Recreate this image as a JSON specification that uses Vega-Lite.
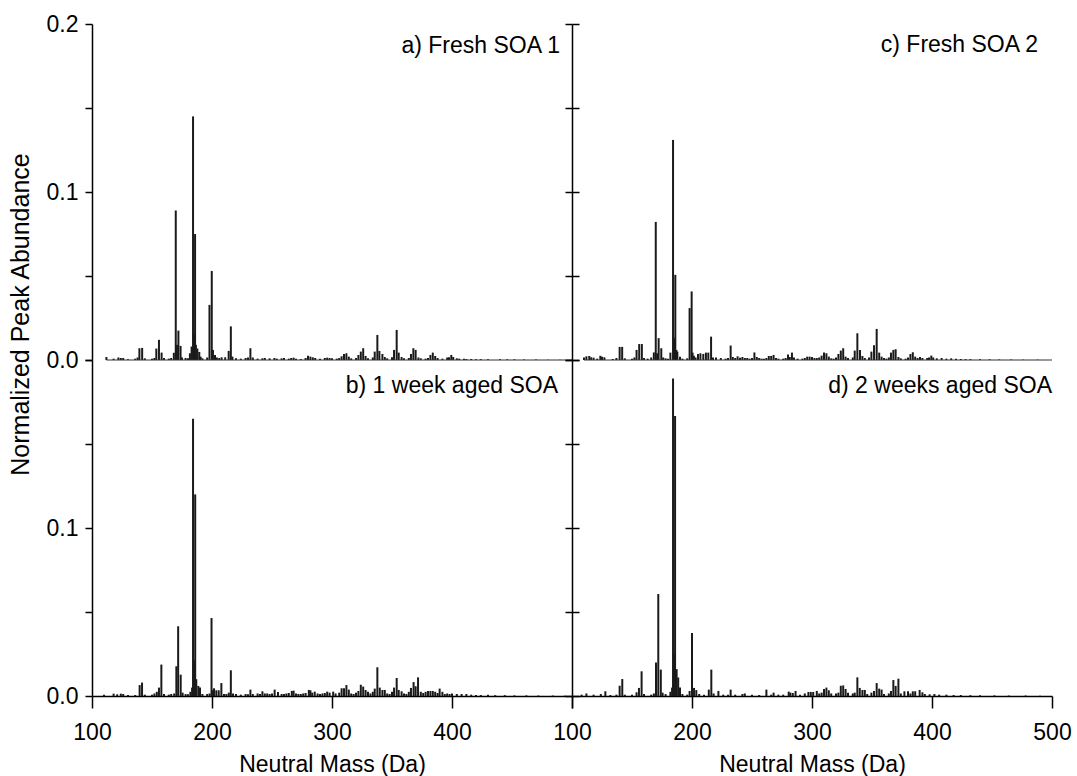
{
  "$schema": "https://vega.github.io/schema/vega-lite/v6.json",
  "padding": {"left": 8, "top": 13, "right": 0, "bottom": 0},
  "background": "white",
  "config": {
    "view": {"stroke": null},
    "font": "Liberation Sans",
    "axis": {"grid": false, "domainColor": "#000", "tickColor": "#000", "labelColor": "#000", "titleColor": "#000", "domainWidth": 1.5, "tickWidth": 1.5, "labelFontSize": 23, "titleFontSize": 23, "titleFontWeight": "normal", "labelFont": "Liberation Sans", "titleFont": "Liberation Sans", "labelFlush": false},
    "title": {"font": "Liberation Sans", "fontSize": 23, "fontWeight": "normal", "color": "#000"}
  },
  "datasets": {
    "spec": [
      {"p":"a","m":112,"v":0.0018},{"p":"a","m":118,"v":0.0008},{"p":"a","m":122,"v":0.0015},{"p":"a","m":124,"v":0.0012},{"p":"a","m":126,"v":0.0012},{"p":"a","m":130,"v":0.0005},{"p":"a","m":136,"v":0.0008},{"p":"a","m":138,"v":0.0015},{"p":"a","m":139.5,"v":0.007},{"p":"a","m":141.8,"v":0.0072},{"p":"a","m":144,"v":0.001},{"p":"a","m":150,"v":0.0008},{"p":"a","m":152,"v":0.0012},{"p":"a","m":153.6,"v":0.0068},{"p":"a","m":155.8,"v":0.012},{"p":"a","m":158,"v":0.0044},{"p":"a","m":160,"v":0.0012},{"p":"a","m":164,"v":0.0008},{"p":"a","m":166,"v":0.0012},{"p":"a","m":168.2,"v":0.0043},{"p":"a","m":169.8,"v":0.089},{"p":"a","m":170.8,"v":0.009},{"p":"a","m":172,"v":0.0175},{"p":"a","m":173.8,"v":0.0084},{"p":"a","m":175,"v":0.0015},{"p":"a","m":178,"v":0.0012},{"p":"a","m":180,"v":0.001},{"p":"a","m":181.6,"v":0.004},{"p":"a","m":183,"v":0.008},{"p":"a","m":184.2,"v":0.145},{"p":"a","m":184.8,"v":0.016},{"p":"a","m":185.3,"v":0.014},{"p":"a","m":185.9,"v":0.075},{"p":"a","m":186.6,"v":0.009},{"p":"a","m":187.8,"v":0.0068},{"p":"a","m":189.4,"v":0.0048},{"p":"a","m":190.5,"v":0.002},{"p":"a","m":192,"v":0.001},{"p":"a","m":196,"v":0.0015},{"p":"a","m":197.9,"v":0.0328},{"p":"a","m":199.8,"v":0.053},{"p":"a","m":200.8,"v":0.006},{"p":"a","m":202.5,"v":0.003},{"p":"a","m":204,"v":0.0015},{"p":"a","m":206,"v":0.0012},{"p":"a","m":208,"v":0.0016},{"p":"a","m":211,"v":0.0016},{"p":"a","m":213.9,"v":0.0054},{"p":"a","m":215.7,"v":0.02},{"p":"a","m":217,"v":0.002},{"p":"a","m":220,"v":0.001},{"p":"a","m":224,"v":0.0008},{"p":"a","m":228,"v":0.0012},{"p":"a","m":230,"v":0.0015},{"p":"a","m":232,"v":0.007},{"p":"a","m":234,"v":0.0015},{"p":"a","m":238,"v":0.0008},{"p":"a","m":242,"v":0.001},{"p":"a","m":244,"v":0.0012},{"p":"a","m":248,"v":0.001},{"p":"a","m":252,"v":0.0012},{"p":"a","m":254,"v":0.0008},{"p":"a","m":258,"v":0.001},{"p":"a","m":260,"v":0.0012},{"p":"a","m":264,"v":0.0008},{"p":"a","m":266,"v":0.0012},{"p":"a","m":268,"v":0.0014},{"p":"a","m":270,"v":0.0008},{"p":"a","m":274,"v":0.0006},{"p":"a","m":278,"v":0.0012},{"p":"a","m":280,"v":0.0026},{"p":"a","m":282,"v":0.002},{"p":"a","m":284,"v":0.0016},{"p":"a","m":286,"v":0.0012},{"p":"a","m":290,"v":0.0008},{"p":"a","m":294,"v":0.0012},{"p":"a","m":296,"v":0.0014},{"p":"a","m":298,"v":0.0012},{"p":"a","m":300,"v":0.001},{"p":"a","m":304,"v":0.0008},{"p":"a","m":306,"v":0.0012},{"p":"a","m":308,"v":0.0022},{"p":"a","m":310,"v":0.0036},{"p":"a","m":312,"v":0.004},{"p":"a","m":314,"v":0.002},{"p":"a","m":316,"v":0.001},{"p":"a","m":320,"v":0.0012},{"p":"a","m":322,"v":0.003},{"p":"a","m":324,"v":0.005},{"p":"a","m":326,"v":0.007},{"p":"a","m":328,"v":0.0024},{"p":"a","m":330,"v":0.001},{"p":"a","m":334,"v":0.0015},{"p":"a","m":335.6,"v":0.005},{"p":"a","m":337.8,"v":0.0149},{"p":"a","m":339.5,"v":0.0054},{"p":"a","m":342,"v":0.0036},{"p":"a","m":344,"v":0.0018},{"p":"a","m":346,"v":0.001},{"p":"a","m":350,"v":0.0016},{"p":"a","m":351.7,"v":0.006},{"p":"a","m":353.9,"v":0.0179},{"p":"a","m":355.6,"v":0.0044},{"p":"a","m":358,"v":0.0018},{"p":"a","m":360,"v":0.001},{"p":"a","m":364,"v":0.0012},{"p":"a","m":365.8,"v":0.0036},{"p":"a","m":367.8,"v":0.007},{"p":"a","m":369.7,"v":0.006},{"p":"a","m":372,"v":0.0015},{"p":"a","m":374,"v":0.001},{"p":"a","m":378,"v":0.0008},{"p":"a","m":380,"v":0.0012},{"p":"a","m":382,"v":0.003},{"p":"a","m":384,"v":0.0044},{"p":"a","m":386,"v":0.0024},{"p":"a","m":388,"v":0.0012},{"p":"a","m":392,"v":0.0008},{"p":"a","m":396,"v":0.0015},{"p":"a","m":397.5,"v":0.0016},{"p":"a","m":399.4,"v":0.003},{"p":"a","m":401,"v":0.0018},{"p":"a","m":404,"v":0.001},{"p":"a","m":406,"v":0.0008},{"p":"a","m":410,"v":0.0008},{"p":"a","m":412,"v":0.0006},{"p":"a","m":416,"v":0.0006},{"p":"a","m":420,"v":0.0005},{"p":"a","m":424,"v":0.0005},{"p":"a","m":430,"v":0.0004},{"p":"a","m":440,"v":0.0005},{"p":"a","m":446,"v":0.0004},{"p":"a","m":452,"v":0.0004},{"p":"a","m":460,"v":0.0003},{"p":"a","m":470,"v":0.0003},{"p":"a","m":480,"v":0.0002},{"p":"a","m":490,"v":0.0002},
      {"p":"c","m":110,"v":0.0015},{"p":"c","m":112,"v":0.0022},{"p":"c","m":114.4,"v":0.0024},{"p":"c","m":116,"v":0.0016},{"p":"c","m":118,"v":0.0014},{"p":"c","m":121,"v":0.0008},{"p":"c","m":123.6,"v":0.0025},{"p":"c","m":125,"v":0.002},{"p":"c","m":127,"v":0.0016},{"p":"c","m":134,"v":0.0006},{"p":"c","m":137,"v":0.0012},{"p":"c","m":139.7,"v":0.0078},{"p":"c","m":141.8,"v":0.0078},{"p":"c","m":144,"v":0.001},{"p":"c","m":150,"v":0.0008},{"p":"c","m":152,"v":0.0015},{"p":"c","m":153.8,"v":0.006},{"p":"c","m":156,"v":0.0095},{"p":"c","m":158.2,"v":0.0095},{"p":"c","m":160,"v":0.0012},{"p":"c","m":163,"v":0.0008},{"p":"c","m":166,"v":0.0015},{"p":"c","m":168.2,"v":0.0045},{"p":"c","m":169.8,"v":0.0822},{"p":"c","m":171,"v":0.004},{"p":"c","m":172.2,"v":0.013},{"p":"c","m":174.4,"v":0.007},{"p":"c","m":176,"v":0.0015},{"p":"c","m":178,"v":0.001},{"p":"c","m":180,"v":0.0008},{"p":"c","m":182,"v":0.0044},{"p":"c","m":184.2,"v":0.131},{"p":"c","m":184.8,"v":0.0134},{"p":"c","m":185.3,"v":0.012},{"p":"c","m":186.1,"v":0.0507},{"p":"c","m":187,"v":0.006},{"p":"c","m":187.8,"v":0.005},{"p":"c","m":190,"v":0.002},{"p":"c","m":192,"v":0.0008},{"p":"c","m":196,"v":0.001},{"p":"c","m":198,"v":0.0309},{"p":"c","m":199.7,"v":0.0408},{"p":"c","m":200.5,"v":0.0044},{"p":"c","m":201.6,"v":0.0025},{"p":"c","m":203,"v":0.0015},{"p":"c","m":205,"v":0.0035},{"p":"c","m":207,"v":0.004},{"p":"c","m":209.4,"v":0.0036},{"p":"c","m":211.6,"v":0.0044},{"p":"c","m":213.6,"v":0.0044},{"p":"c","m":215.9,"v":0.0139},{"p":"c","m":217.5,"v":0.0015},{"p":"c","m":220,"v":0.0015},{"p":"c","m":224,"v":0.0012},{"p":"c","m":228,"v":0.0008},{"p":"c","m":230,"v":0.0012},{"p":"c","m":232.2,"v":0.0086},{"p":"c","m":234,"v":0.0018},{"p":"c","m":236,"v":0.0012},{"p":"c","m":238,"v":0.0022},{"p":"c","m":240,"v":0.0014},{"p":"c","m":242,"v":0.0018},{"p":"c","m":244,"v":0.0012},{"p":"c","m":246,"v":0.0012},{"p":"c","m":248,"v":0.0008},{"p":"c","m":250,"v":0.0012},{"p":"c","m":252,"v":0.0045},{"p":"c","m":254,"v":0.0018},{"p":"c","m":256,"v":0.0012},{"p":"c","m":258,"v":0.0008},{"p":"c","m":260,"v":0.0008},{"p":"c","m":262,"v":0.0012},{"p":"c","m":264,"v":0.0024},{"p":"c","m":266,"v":0.0024},{"p":"c","m":268,"v":0.003},{"p":"c","m":270,"v":0.0012},{"p":"c","m":272,"v":0.0008},{"p":"c","m":276,"v":0.0008},{"p":"c","m":278,"v":0.0012},{"p":"c","m":280,"v":0.0032},{"p":"c","m":281.5,"v":0.0018},{"p":"c","m":283.3,"v":0.0044},{"p":"c","m":285,"v":0.0015},{"p":"c","m":288,"v":0.0008},{"p":"c","m":292,"v":0.0008},{"p":"c","m":294,"v":0.0012},{"p":"c","m":296,"v":0.002},{"p":"c","m":298,"v":0.002},{"p":"c","m":300,"v":0.0018},{"p":"c","m":302,"v":0.0012},{"p":"c","m":304,"v":0.0012},{"p":"c","m":306,"v":0.0015},{"p":"c","m":308,"v":0.0026},{"p":"c","m":310,"v":0.0044},{"p":"c","m":312,"v":0.004},{"p":"c","m":314,"v":0.002},{"p":"c","m":316,"v":0.001},{"p":"c","m":318,"v":0.0008},{"p":"c","m":320,"v":0.0015},{"p":"c","m":322,"v":0.0036},{"p":"c","m":324,"v":0.0056},{"p":"c","m":326,"v":0.007},{"p":"c","m":328,"v":0.002},{"p":"c","m":330,"v":0.0012},{"p":"c","m":334,"v":0.0015},{"p":"c","m":335.6,"v":0.0056},{"p":"c","m":337.8,"v":0.0159},{"p":"c","m":340,"v":0.006},{"p":"c","m":342,"v":0.0024},{"p":"c","m":344,"v":0.0012},{"p":"c","m":347.5,"v":0.0015},{"p":"c","m":349.5,"v":0.005},{"p":"c","m":351.7,"v":0.0088},{"p":"c","m":353.9,"v":0.0185},{"p":"c","m":356,"v":0.0044},{"p":"c","m":358,"v":0.002},{"p":"c","m":360,"v":0.0012},{"p":"c","m":362,"v":0.0008},{"p":"c","m":364,"v":0.0015},{"p":"c","m":365.8,"v":0.0044},{"p":"c","m":367.8,"v":0.006},{"p":"c","m":369.7,"v":0.0064},{"p":"c","m":372,"v":0.0018},{"p":"c","m":374,"v":0.001},{"p":"c","m":378,"v":0.0008},{"p":"c","m":380,"v":0.0015},{"p":"c","m":382,"v":0.0036},{"p":"c","m":384,"v":0.0046},{"p":"c","m":386,"v":0.002},{"p":"c","m":388,"v":0.0012},{"p":"c","m":390,"v":0.0018},{"p":"c","m":392,"v":0.0012},{"p":"c","m":396,"v":0.0012},{"p":"c","m":397.5,"v":0.0015},{"p":"c","m":399.4,"v":0.0026},{"p":"c","m":401,"v":0.0015},{"p":"c","m":404,"v":0.001},{"p":"c","m":408,"v":0.0012},{"p":"c","m":412,"v":0.0008},{"p":"c","m":416,"v":0.001},{"p":"c","m":420,"v":0.0008},{"p":"c","m":424,"v":0.0006},{"p":"c","m":428,"v":0.0005},{"p":"c","m":432,"v":0.0005},{"p":"c","m":440,"v":0.0004},{"p":"c","m":448,"v":0.0004},{"p":"c","m":456,"v":0.0003},{"p":"c","m":466,"v":0.0003},{"p":"c","m":476,"v":0.0002},{"p":"c","m":488,"v":0.0002},
      {"p":"b","m":110,"v":0.0008},{"p":"b","m":118,"v":0.0014},{"p":"b","m":121,"v":0.001},{"p":"b","m":124,"v":0.0014},{"p":"b","m":126,"v":0.0012},{"p":"b","m":130,"v":0.0006},{"p":"b","m":136,"v":0.0006},{"p":"b","m":139.7,"v":0.0065},{"p":"b","m":141.7,"v":0.008},{"p":"b","m":144,"v":0.0008},{"p":"b","m":150,"v":0.0008},{"p":"b","m":152,"v":0.0015},{"p":"b","m":154,"v":0.0025},{"p":"b","m":155.8,"v":0.005},{"p":"b","m":157.8,"v":0.0187},{"p":"b","m":160,"v":0.0012},{"p":"b","m":164,"v":0.0008},{"p":"b","m":166,"v":0.0012},{"p":"b","m":168.5,"v":0.0015},{"p":"b","m":170.3,"v":0.0177},{"p":"b","m":171.8,"v":0.0415},{"p":"b","m":173.9,"v":0.0127},{"p":"b","m":175.5,"v":0.002},{"p":"b","m":178,"v":0.0012},{"p":"b","m":180,"v":0.001},{"p":"b","m":182,"v":0.0025},{"p":"b","m":183.4,"v":0.005},{"p":"b","m":184.2,"v":0.165},{"p":"b","m":184.8,"v":0.0214},{"p":"b","m":185.4,"v":0.02},{"p":"b","m":186,"v":0.12},{"p":"b","m":186.9,"v":0.01},{"p":"b","m":188.6,"v":0.006},{"p":"b","m":190,"v":0.005},{"p":"b","m":192,"v":0.0012},{"p":"b","m":196,"v":0.0012},{"p":"b","m":198,"v":0.0015},{"p":"b","m":199.6,"v":0.0464},{"p":"b","m":200.8,"v":0.0035},{"p":"b","m":201.7,"v":0.0046},{"p":"b","m":203.6,"v":0.0034},{"p":"b","m":205.6,"v":0.0034},{"p":"b","m":207.8,"v":0.0077},{"p":"b","m":210,"v":0.0012},{"p":"b","m":212,"v":0.0012},{"p":"b","m":214,"v":0.002},{"p":"b","m":215.7,"v":0.0153},{"p":"b","m":217.5,"v":0.0015},{"p":"b","m":220,"v":0.0012},{"p":"b","m":224,"v":0.0008},{"p":"b","m":228,"v":0.0012},{"p":"b","m":230,"v":0.001},{"p":"b","m":232,"v":0.0038},{"p":"b","m":234,"v":0.0012},{"p":"b","m":238,"v":0.0015},{"p":"b","m":240,"v":0.0012},{"p":"b","m":242,"v":0.0028},{"p":"b","m":244,"v":0.0015},{"p":"b","m":246,"v":0.0015},{"p":"b","m":248,"v":0.0012},{"p":"b","m":250,"v":0.0015},{"p":"b","m":252.2,"v":0.0038},{"p":"b","m":255,"v":0.0024},{"p":"b","m":258,"v":0.0012},{"p":"b","m":260,"v":0.0012},{"p":"b","m":262,"v":0.0015},{"p":"b","m":264,"v":0.0018},{"p":"b","m":266.5,"v":0.003},{"p":"b","m":268,"v":0.0032},{"p":"b","m":270,"v":0.0015},{"p":"b","m":272,"v":0.0012},{"p":"b","m":274,"v":0.0012},{"p":"b","m":276,"v":0.0015},{"p":"b","m":278,"v":0.0018},{"p":"b","m":280.7,"v":0.0036},{"p":"b","m":282,"v":0.0034},{"p":"b","m":283.5,"v":0.002},{"p":"b","m":285.6,"v":0.0026},{"p":"b","m":288,"v":0.0015},{"p":"b","m":290,"v":0.0012},{"p":"b","m":292,"v":0.0015},{"p":"b","m":294,"v":0.0018},{"p":"b","m":296,"v":0.0026},{"p":"b","m":298,"v":0.002},{"p":"b","m":301,"v":0.0026},{"p":"b","m":303,"v":0.0015},{"p":"b","m":306,"v":0.002},{"p":"b","m":308,"v":0.0046},{"p":"b","m":310,"v":0.0046},{"p":"b","m":312,"v":0.0065},{"p":"b","m":314,"v":0.0038},{"p":"b","m":316,"v":0.0015},{"p":"b","m":318,"v":0.0012},{"p":"b","m":320,"v":0.002},{"p":"b","m":322,"v":0.003},{"p":"b","m":324,"v":0.0067},{"p":"b","m":326,"v":0.0056},{"p":"b","m":328,"v":0.0036},{"p":"b","m":330,"v":0.0026},{"p":"b","m":332,"v":0.0015},{"p":"b","m":334,"v":0.0025},{"p":"b","m":335.6,"v":0.0044},{"p":"b","m":337.8,"v":0.0171},{"p":"b","m":339.8,"v":0.005},{"p":"b","m":342,"v":0.0036},{"p":"b","m":344,"v":0.0036},{"p":"b","m":346,"v":0.0015},{"p":"b","m":348,"v":0.0012},{"p":"b","m":350,"v":0.0025},{"p":"b","m":351.7,"v":0.005},{"p":"b","m":353.9,"v":0.0107},{"p":"b","m":355.6,"v":0.0036},{"p":"b","m":358,"v":0.0028},{"p":"b","m":360,"v":0.0015},{"p":"b","m":362,"v":0.0012},{"p":"b","m":364,"v":0.0025},{"p":"b","m":365.8,"v":0.0048},{"p":"b","m":368,"v":0.0083},{"p":"b","m":369.7,"v":0.0058},{"p":"b","m":371.7,"v":0.0111},{"p":"b","m":374,"v":0.0025},{"p":"b","m":376,"v":0.0018},{"p":"b","m":378,"v":0.0025},{"p":"b","m":380,"v":0.003},{"p":"b","m":382,"v":0.003},{"p":"b","m":384,"v":0.003},{"p":"b","m":386,"v":0.0025},{"p":"b","m":388,"v":0.0018},{"p":"b","m":389.7,"v":0.0044},{"p":"b","m":392,"v":0.0025},{"p":"b","m":394,"v":0.0012},{"p":"b","m":396,"v":0.0015},{"p":"b","m":398,"v":0.0012},{"p":"b","m":400,"v":0.0015},{"p":"b","m":404,"v":0.0012},{"p":"b","m":408,"v":0.0012},{"p":"b","m":412,"v":0.0012},{"p":"b","m":416,"v":0.0008},{"p":"b","m":420,"v":0.0006},{"p":"b","m":424,"v":0.0006},{"p":"b","m":430,"v":0.0008},{"p":"b","m":436,"v":0.0005},{"p":"b","m":444,"v":0.0005},{"p":"b","m":452,"v":0.0004},{"p":"b","m":462,"v":0.0004},{"p":"b","m":472,"v":0.0003},{"p":"b","m":484,"v":0.0003},{"p":"b","m":494,"v":0.0002},
      {"p":"d","m":108,"v":0.0008},{"p":"d","m":112,"v":0.0015},{"p":"d","m":118,"v":0.0008},{"p":"d","m":124,"v":0.0012},{"p":"d","m":127.8,"v":0.0028},{"p":"d","m":132,"v":0.0006},{"p":"d","m":137,"v":0.0008},{"p":"d","m":139.7,"v":0.0061},{"p":"d","m":141.9,"v":0.0101},{"p":"d","m":144,"v":0.0008},{"p":"d","m":150,"v":0.0008},{"p":"d","m":153.8,"v":0.0022},{"p":"d","m":155.8,"v":0.0048},{"p":"d","m":158,"v":0.0147},{"p":"d","m":160,"v":0.0012},{"p":"d","m":166,"v":0.0008},{"p":"d","m":168.2,"v":0.0015},{"p":"d","m":170,"v":0.02},{"p":"d","m":171.9,"v":0.0607},{"p":"d","m":174,"v":0.0157},{"p":"d","m":175.5,"v":0.002},{"p":"d","m":178,"v":0.0012},{"p":"d","m":182,"v":0.0025},{"p":"d","m":183.4,"v":0.005},{"p":"d","m":184.2,"v":0.189},{"p":"d","m":184.8,"v":0.0254},{"p":"d","m":185.4,"v":0.024},{"p":"d","m":185.9,"v":0.1667},{"p":"d","m":187.2,"v":0.016},{"p":"d","m":188.5,"v":0.011},{"p":"d","m":190,"v":0.005},{"p":"d","m":192,"v":0.0012},{"p":"d","m":196,"v":0.0008},{"p":"d","m":198,"v":0.003},{"p":"d","m":200,"v":0.0375},{"p":"d","m":201.7,"v":0.0048},{"p":"d","m":203.6,"v":0.0035},{"p":"d","m":206,"v":0.0012},{"p":"d","m":210,"v":0.0008},{"p":"d","m":214,"v":0.0038},{"p":"d","m":216.1,"v":0.0157},{"p":"d","m":218,"v":0.0015},{"p":"d","m":222,"v":0.003},{"p":"d","m":226,"v":0.0008},{"p":"d","m":230,"v":0.0008},{"p":"d","m":232.2,"v":0.0038},{"p":"d","m":236,"v":0.0008},{"p":"d","m":242,"v":0.0012},{"p":"d","m":244,"v":0.0015},{"p":"d","m":250,"v":0.0008},{"p":"d","m":256,"v":0.0006},{"p":"d","m":262,"v":0.0038},{"p":"d","m":266,"v":0.0008},{"p":"d","m":268,"v":0.002},{"p":"d","m":272,"v":0.0008},{"p":"d","m":276,"v":0.0008},{"p":"d","m":280.6,"v":0.0026},{"p":"d","m":282,"v":0.002},{"p":"d","m":284,"v":0.0018},{"p":"d","m":286.3,"v":0.003},{"p":"d","m":290,"v":0.0008},{"p":"d","m":294,"v":0.0015},{"p":"d","m":297,"v":0.0024},{"p":"d","m":299,"v":0.0024},{"p":"d","m":301,"v":0.0024},{"p":"d","m":304,"v":0.003},{"p":"d","m":306,"v":0.0015},{"p":"d","m":308,"v":0.002},{"p":"d","m":310,"v":0.0042},{"p":"d","m":312,"v":0.005},{"p":"d","m":314,"v":0.0034},{"p":"d","m":316,"v":0.0015},{"p":"d","m":320,"v":0.0015},{"p":"d","m":322,"v":0.002},{"p":"d","m":324,"v":0.0061},{"p":"d","m":326,"v":0.0063},{"p":"d","m":328,"v":0.0042},{"p":"d","m":330,"v":0.002},{"p":"d","m":334,"v":0.0015},{"p":"d","m":335.6,"v":0.002},{"p":"d","m":337.8,"v":0.0111},{"p":"d","m":339.8,"v":0.0048},{"p":"d","m":342,"v":0.0036},{"p":"d","m":344,"v":0.0036},{"p":"d","m":346,"v":0.0012},{"p":"d","m":349.5,"v":0.002},{"p":"d","m":351.7,"v":0.003},{"p":"d","m":353.9,"v":0.0077},{"p":"d","m":356,"v":0.0044},{"p":"d","m":358,"v":0.0038},{"p":"d","m":360,"v":0.0012},{"p":"d","m":364,"v":0.0015},{"p":"d","m":365.8,"v":0.003},{"p":"d","m":367.8,"v":0.0095},{"p":"d","m":369.7,"v":0.006},{"p":"d","m":372,"v":0.0103},{"p":"d","m":374,"v":0.0015},{"p":"d","m":377,"v":0.0028},{"p":"d","m":380,"v":0.0028},{"p":"d","m":382,"v":0.0015},{"p":"d","m":384,"v":0.0028},{"p":"d","m":386,"v":0.0028},{"p":"d","m":389.7,"v":0.0036},{"p":"d","m":392,"v":0.0022},{"p":"d","m":394,"v":0.0012},{"p":"d","m":398,"v":0.001},{"p":"d","m":402,"v":0.0012},{"p":"d","m":406,"v":0.0008},{"p":"d","m":412,"v":0.0008},{"p":"d","m":418,"v":0.0006},{"p":"d","m":424,"v":0.0006},{"p":"d","m":432,"v":0.0005},{"p":"d","m":440,"v":0.0005},{"p":"d","m":452,"v":0.0004},{"p":"d","m":464,"v":0.0003},{"p":"d","m":478,"v":0.0003},{"p":"d","m":490,"v":0.0002}
    ]
  },
  "bounds": "flush",
  "spacing": 0,
  "columns": 2,
  "concat": [
    {
      "width": 480, "height": 336,
      "data": {"name": "spec"},
      "transform": [{"filter": "datum.p == 'a'"}],
      "title": {"text": "a) Fresh SOA 1", "anchor": "end", "frame": "group", "orient": "top", "baseline": "alphabetic", "offset": -63, "dx": -12},
      "layer": [
        {
          "mark": {"type": "rule", "color": "#1a1a1a", "strokeWidth": 2},
          "encoding": {
            "x": {"field": "m", "type": "quantitative", "scale": {"domain": [100, 500]}, "axis": null},
            "y": {"field": "v", "type": "quantitative", "scale": {"domain": [0, 0.2]},
              "axis": {"orient": "left", "values": [0, 0.05, 0.1, 0.15, 0.2], "labelExpr": "round(datum.value*20)%2==1 ? '' : format(datum.value, '.1f')", "tickSize": 7, "labelPadding": 7, "title": "Normalized Peak Abundance", "titleFontSize": 25, "titleY": 290, "titlePadding": 13}},
            "y2": {"datum": 0}
          }
        },
        {
          "mark": {"type": "rule", "color": "#333", "strokeWidth": 1},
          "encoding": {
            "x": {"field": "m", "type": "quantitative", "aggregate": "min", "scale": {"domain": [100, 500]}, "axis": null},
            "x2": {"datum": 500},
            "y": {"datum": 0, "type": "quantitative", "scale": {"domain": [0, 0.2]},
              "axis": {"orient": "right", "values": [0, 0.05, 0.1, 0.15, 0.2], "tickSize": 7, "labels": false, "domain": false, "title": null}}
          }
        }
      ],
      "resolve": {"axis": {"y": "independent"}}
    },
    {
      "width": 480, "height": 336,
      "data": {"name": "spec"},
      "transform": [{"filter": "datum.p == 'c'"}],
      "title": {"text": "c) Fresh SOA 2", "anchor": "end", "frame": "group", "orient": "top", "baseline": "alphabetic", "offset": -52, "dx": -14},
      "layer": [
        {
          "mark": {"type": "rule", "color": "#1a1a1a", "strokeWidth": 2},
          "encoding": {
            "x": {"field": "m", "type": "quantitative", "scale": {"domain": [100, 500]}, "axis": null},
            "y": {"field": "v", "type": "quantitative", "scale": {"domain": [0, 0.2]},
              "axis": {"orient": "left", "values": [0, 0.05, 0.1, 0.15, 0.2], "tickSize": 7, "labels": false, "title": null}},
            "y2": {"datum": 0}
          }
        },
        {
          "mark": {"type": "rule", "color": "#333", "strokeWidth": 1},
          "encoding": {
            "x": {"field": "m", "type": "quantitative", "aggregate": "min", "scale": {"domain": [100, 500]}, "axis": null},
            "x2": {"datum": 500},
            "y": {"datum": 0, "type": "quantitative", "scale": {"domain": [0, 0.2]}}
          }
        }
      ]
    },
    {
      "width": 480, "height": 336,
      "data": {"name": "spec"},
      "transform": [{"filter": "datum.p == 'b'"}],
      "title": {"text": "b) 1 week aged SOA", "anchor": "end", "frame": "group", "orient": "top", "baseline": "alphabetic", "offset": -57, "dx": -14},
      "layer": [
        {
          "mark": {"type": "rule", "color": "#1a1a1a", "strokeWidth": 2},
          "encoding": {
            "x": {"field": "m", "type": "quantitative", "scale": {"domain": [100, 500]},
              "axis": {"orient": "bottom", "values": [100, 200, 300, 400, 500], "format": "d", "labelExpr": "datum.value == 500 ? '' : datum.label", "tickSize": 12, "labelPadding": 13, "title": "Neutral Mass (Da)", "titlePadding": 9}},
            "y": {"field": "v", "type": "quantitative", "scale": {"domain": [0, 0.2]},
              "axis": {"orient": "left", "values": [0, 0.05, 0.1, 0.15, 0.2], "labelExpr": "(round(datum.value*20)%2==1 || datum.value > 0.15) ? '' : format(datum.value, '.1f')", "tickSize": 7, "labelPadding": 7, "title": null}},
            "y2": {"datum": 0}
          }
        },
        {
          "mark": {"type": "rule", "color": "#333", "strokeWidth": 1, "opacity": 0},
          "encoding": {
            "x": {"field": "m", "type": "quantitative", "aggregate": "min", "scale": {"domain": [100, 500]}},
            "x2": {"datum": 500},
            "y": {"datum": 0, "type": "quantitative", "scale": {"domain": [0, 0.2]},
              "axis": {"orient": "right", "values": [0, 0.05, 0.1, 0.15, 0.2], "tickSize": 7, "labels": false, "domain": false, "title": null}}
          }
        }
      ],
      "resolve": {"axis": {"y": "independent"}}
    },
    {
      "width": 480, "height": 336,
      "data": {"name": "spec"},
      "transform": [{"filter": "datum.p == 'd'"}],
      "title": {"text": "d) 2 weeks aged SOA", "anchor": "end", "frame": "group", "orient": "top", "baseline": "alphabetic", "offset": -57, "dx": 0},
      "mark": {"type": "rule", "color": "#1a1a1a", "strokeWidth": 2},
      "encoding": {
        "x": {"field": "m", "type": "quantitative", "scale": {"domain": [100, 500]},
          "axis": {"orient": "bottom", "values": [100, 200, 300, 400, 500], "format": "d", "tickSize": 12, "labelPadding": 13, "title": "Neutral Mass (Da)", "titlePadding": 9}},
        "y": {"field": "v", "type": "quantitative", "scale": {"domain": [0, 0.2]},
          "axis": {"orient": "left", "values": [0, 0.05, 0.1, 0.15, 0.2], "tickSize": 7, "labels": false, "title": null}},
        "y2": {"datum": 0}
      }
    }
  ]
}
